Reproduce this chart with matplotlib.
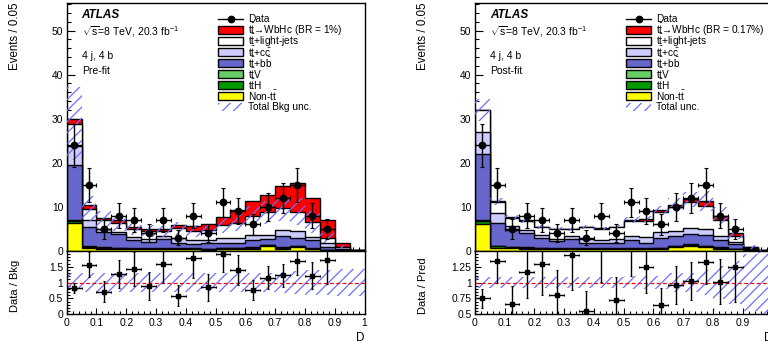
import numpy as np
import matplotlib
matplotlib.use("Agg")
import matplotlib.pyplot as plt
from matplotlib.patches import Rectangle
from matplotlib.lines import Line2D
from matplotlib.ticker import MultipleLocator, FixedLocator, FuncFormatter

plt.rcParams['font.family'] = ['Liberation Sans', 'DejaVu Sans']
plt.rcParams['mathtext.fontset'] = 'custom'
plt.rcParams['mathtext.rm'] = 'Liberation Sans'
plt.rcParams['mathtext.it'] = 'Liberation Sans:italic'
plt.rcParams['mathtext.bf'] = 'Liberation Sans:bold'
plt.rcParams['hatch.linewidth'] = 0.9

# ---------------- data ----------------
bin_edges = [0.0, 0.05, 0.1, 0.15, 0.2, 0.25, 0.3, 0.35, 0.4, 0.45, 0.5,
             0.55, 0.6, 0.65, 0.7, 0.75, 0.8, 0.85, 0.9, 0.95, 1.0]
data_counts = [24, 15, 5, 8, 7, 4, 7, 3, 8, 4, 11, 9, 6, 10, 12, 15, 8, 5, 0, 0]

# Pre-fit
pre_nontt = [6.2, 0.6, 0.5, 0.4, 0.3, 0.3, 0.3, 0.3, 0.3, 0.2, 0.4, 0.4, 0.5, 1.1, 0.5, 0.8, 0.3, 0.1, 0.05, 0.0]
pre_tth = [0.6, 0.3, 0.2, 0.2, 0.15, 0.15, 0.15, 0.15, 0.15, 0.15, 0.15, 0.15, 0.2, 0.2, 0.2, 0.2, 0.15, 0.1, 0.05, 0.0]
pre_ttv = [0.3, 0.2, 0.1, 0.1, 0.1, 0.1, 0.1, 0.1, 0.1, 0.1, 0.1, 0.1, 0.1, 0.1, 0.1, 0.1, 0.1, 0.05, 0.02, 0.0]
pre_ttbb = [12.4, 4.4, 3.5, 3.1, 1.85, 1.45, 2.05, 1.15, 1.05, 1.25, 1.15, 1.15, 1.6, 1.2, 2.5, 1.9, 1.85, 0.65, 0.38, 0.1]
pre_ttcc = [4.4, 1.5, 0.7, 0.5, 0.8, 0.6, 0.7, 1.1, 0.8, 0.7, 1.0, 1.0, 1.3, 1.1, 1.4, 1.5, 0.8, 0.8, 0.3, 0.05]
pre_ttlight = [5.0, 2.6, 2.0, 2.0, 1.7, 1.9, 1.1, 2.3, 2.1, 2.3, 3.0, 3.6, 4.2, 5.0, 5.1, 4.4, 3.4, 1.2, 0.1, 0.05]
pre_signal = [1.1, 0.8, 0.4, 0.6, 0.5, 0.5, 0.5, 0.7, 1.1, 1.3, 1.8, 2.8, 3.3, 4.0, 5.0, 6.4, 5.4, 4.1, 0.8, 0.0]
pre_rel_unc = [0.29, 0.29, 0.29, 0.29, 0.29, 0.29, 0.29, 0.29, 0.29, 0.29, 0.29, 0.29, 0.29,
               0.31, 0.32, 0.35, 0.38, 0.40, 0.42, 0.42]

# Post-fit
post_nontt = [6.1, 0.7, 0.6, 0.5, 0.4, 0.3, 0.3, 0.3, 0.3, 0.3, 0.3, 0.3, 0.4, 0.8, 1.1, 0.8, 0.5, 0.3, 0.1, 0.0]
post_tth = [0.6, 0.3, 0.2, 0.2, 0.15, 0.15, 0.15, 0.15, 0.15, 0.15, 0.2, 0.2, 0.2, 0.2, 0.25, 0.25, 0.2, 0.15, 0.05, 0.0]
post_ttv = [0.3, 0.2, 0.1, 0.1, 0.1, 0.1, 0.1, 0.1, 0.1, 0.1, 0.1, 0.1, 0.1, 0.1, 0.1, 0.1, 0.1, 0.05, 0.02, 0.0]
post_ttbb = [15.0, 5.1, 3.8, 3.3, 2.15, 1.65, 2.15, 1.15, 1.15, 1.15, 1.8, 1.2, 2.3, 2.2, 2.35, 2.55, 1.6, 1.0, 0.33, 0.05]
post_ttcc = [4.9, 2.2, 1.0, 0.6, 0.8, 0.5, 0.6, 0.9, 0.7, 1.0, 1.0, 1.3, 1.2, 1.2, 1.4, 1.3, 1.0, 0.5, 0.2, 0.03]
post_ttlight = [5.0, 2.65, 1.85, 2.15, 1.75, 2.25, 1.55, 2.8, 2.65, 2.7, 3.4, 3.7, 4.5, 5.4, 5.8, 5.2, 3.5, 1.4, 0.15, 0.07]
post_signal = [0.1, 0.05, 0.05, 0.05, 0.05, 0.05, 0.05, 0.05, 0.05, 0.1, 0.2, 0.4, 0.6, 0.5, 0.7, 1.2, 1.0, 0.6, 0.05, 0.0]
post_rel_unc = [0.08, 0.08, 0.08, 0.08, 0.08, 0.08, 0.08, 0.08, 0.08, 0.08,
                0.10, 0.10, 0.10, 0.15, 0.15, 0.20, 0.26, 0.34, 0.45, 0.80]

TT = r"$\mathrm{t\bar{t}}$"
comp_labels = [TT + "+light-jets", TT + "+" + r"$\mathrm{c\bar{c}}$", TT + "+" + r"$\mathrm{b\bar{b}}$",
               r"$\mathrm{t\bar{t}V}$", r"$\mathrm{t\bar{t}H}$", "Non-" + TT]

# ---------------- style ----------------
C_SIG = '#ff0000'
C_LIGHT = '#ffffff'
C_CC = '#ccccff'
C_BB = '#6666cc'
C_TTV = '#66cc66'
C_TTH = '#009900'
C_NONTT = '#ffff00'
C_HATCH = '#6e6eff'
HATCH = '///'

W, H = 768, 350
fig = plt.figure(figsize=(W / 100, H / 100), dpi=100)


def rect(x0, y0, x1, y1):
    return [x0 / W, 1 - y1 / H, (x1 - x0) / W, (y1 - y0) / H]


def fx(x):
    return x / W


def fy(y):
    return 1 - y / H


edges = np.array(bin_edges)
centers = 0.5 * (edges[1:] + edges[:-1])
halfw = 0.5 * (edges[1:] - edges[:-1])
counts = np.array(data_counts, dtype=float)


def panel(x0, comps, signal, rel_unc, unc_on_total, legend_sig, legend_unc, fit_text, ratio_label,
          ratio_ylim, ratio_ticks, ratio_minor):
    x1 = x0 + 297.8
    ax = fig.add_axes(rect(x0, 3.3, x1, 250.8))
    axr = fig.add_axes(rect(x0, 250.8, x1, 314.3))

    # stack from bottom: nontt, tth, ttv, bb, cc, light, signal
    order = [comps['nontt'], comps['tth'], comps['ttv'], comps['bb'], comps['cc'], comps['light'], signal]
    colors = [C_NONTT, C_TTH, C_TTV, C_BB, C_CC, C_LIGHT, C_SIG]
    cum = np.cumsum(np.array(order, dtype=float), axis=0)
    for i in range(len(order) - 1, -1, -1):
        ax.stairs(cum[i], edges, baseline=0, fill=True, facecolor=colors[i],
                  edgecolor='black', linewidth=1.0, zorder=2)
    bkg = cum[5]
    total = cum[6]
    ref = total if unc_on_total else bkg
    rel = np.array(rel_unc)
    ax.stairs(ref * (1 + rel), edges, baseline=ref * (1 - rel), fill=True, facecolor='none',
              edgecolor=C_HATCH, hatch=HATCH, linewidth=0, zorder=3)

    m = counts > 0
    ax.errorbar(centers[m], counts[m], xerr=halfw[m], yerr=np.sqrt(counts[m]), fmt='o', color='black',
                ms=4.6, elinewidth=1.0, capsize=1.2, capthick=0.8, zorder=5)

    ax.set_xlim(0, 1)
    ax.set_ylim(0, 56.2)
    ax.xaxis.set_major_locator(MultipleLocator(0.1))
    ax.xaxis.set_minor_locator(MultipleLocator(0.02))
    ax.yaxis.set_major_locator(MultipleLocator(10))
    ax.yaxis.set_minor_locator(MultipleLocator(2))
    ax.tick_params(which='both', direction='in', top=False, right=False, labelbottom=False,
                   labelsize=7.4, width=0.8, pad=2.4)
    ax.tick_params(which='major', length=6.0)
    ax.tick_params(which='minor', length=3.0)
    for s in ax.spines.values():
        s.set_linewidth(1.0)

    # ratio
    rr = counts / ref
    rerr = np.sqrt(counts) / ref
    axr.stairs(1 + rel, edges, baseline=1 - rel, fill=True, facecolor='none',
               edgecolor=C_HATCH, hatch=HATCH, linewidth=0, zorder=2)
    axr.axhline(1.0, color='red', ls=(0, (3, 2)), lw=0.9, zorder=3)
    axr.errorbar(centers[m], rr[m], xerr=halfw[m], yerr=rerr[m], fmt='s', color='black',
                 ms=2.4, elinewidth=1.0, capsize=1.0, capthick=0.8, zorder=5)
    axr.set_xlim(0, 1)
    axr.set_ylim(*ratio_ylim)
    axr.xaxis.set_major_locator(MultipleLocator(0.1))
    axr.xaxis.set_minor_locator(MultipleLocator(0.02))
    axr.xaxis.set_major_formatter(FuncFormatter(lambda v, p: f"{v:g}"))
    axr.yaxis.set_major_locator(FixedLocator(ratio_ticks))
    axr.yaxis.set_minor_locator(MultipleLocator(ratio_minor))
    axr.yaxis.set_major_formatter(FuncFormatter(lambda v, p: f"{v:g}"))
    axr.tick_params(which='both', direction='in', top=False, right=False,
                    labelsize=7.4, width=0.8, pad=2.4)
    axr.tick_params(which='major', length=4.0)
    axr.tick_params(which='minor', length=2.0)
    for s in axr.spines.values():
        s.set_linewidth(1.0)

    # texts
    tx = x0 + 15.0
    fig.text(fx(tx), fy(15.5), "ATLAS", fontsize=8.5, fontweight='bold', fontstyle='italic',
             ha='left', va='center')
    fig.text(fx(tx), fy(32), r"$\sqrt{\mathrm{s}}$=8 TeV, 20.3 fb$^{\mathrm{-1}}$", fontsize=7.5,
             ha='left', va='center')
    fig.text(fx(tx), fy(56), "4 j, 4 b", fontsize=7.5, ha='left', va='center')
    fig.text(fx(tx), fy(71), fit_text, fontsize=7.5, ha='left', va='center')

    fig.text(fx(x0 - 51.5), fy(3.0), "Events / 0.05", fontsize=8.3, rotation=90, ha='center', va='top')
    fig.text(fx(x0 - 51.5), fy(286), ratio_label, fontsize=8.0, rotation=90, ha='center', va='center')
    fig.text(fx(x1), fy(338), "D", fontsize=8.4, ha='right', va='center')

    # legend
    bx = x0 + 151.6
    bw = 24.5
    tx2 = bx + 29.5
    labels = ["Data", legend_sig] + comp_labels + [legend_unc]
    box_cols = [None, C_SIG, C_LIGHT, C_CC, C_BB, C_TTV, C_TTH, C_NONTT, None]
    for i, lab in enumerate(labels):
        yc = 19.0 + i * 11.0
        if i == 0:
            fig.add_artist(Line2D([fx(bx), fx(bx + bw)], [fy(yc), fy(yc)], color='black', lw=1.0))
            fig.add_artist(Line2D([fx(bx + bw / 2)], [fy(yc)], marker='o', ms=4.6, color='black'))
        elif i == len(labels) - 1:
            fig.add_artist(Rectangle((fx(bx), fy(yc + 3.6)), bw / W, 7.2 / H, transform=fig.transFigure,
                                     facecolor='none', edgecolor=C_HATCH, hatch=HATCH, linewidth=0))
        else:
            fig.add_artist(Rectangle((fx(bx), fy(yc + 3.6)), bw / W, 7.2 / H, transform=fig.transFigure,
                                     facecolor=box_cols[i], edgecolor='black', linewidth=1.0))
        fig.text(fx(tx2), fy(yc), lab, fontsize=7.3, ha='left', va='center')
    return ax, axr


pre = dict(nontt=pre_nontt, tth=pre_tth, ttv=pre_ttv, bb=pre_ttbb, cc=pre_ttcc, light=pre_ttlight)
post = dict(nontt=post_nontt, tth=post_tth, ttv=post_ttv, bb=post_ttbb, cc=post_ttcc, light=post_ttlight)

panel(66.7, pre, pre_signal, pre_rel_unc, False, TT + "→WbHc (BR = 1%)", "Total Bkg unc.",
      "Pre-fit", "Data / Bkg", (0, 2.0), [0, 0.5, 1, 1.5], 0.1)
panel(474.8, post, post_signal, post_rel_unc, True, TT + "→WbHc (BR = 0.17%)", "Total unc.",
      "Post-fit", "Data / Pred", (0.5, 1.5), [0.5, 0.75, 1, 1.25], 0.05)

fig.savefig("out.png", dpi=100)
